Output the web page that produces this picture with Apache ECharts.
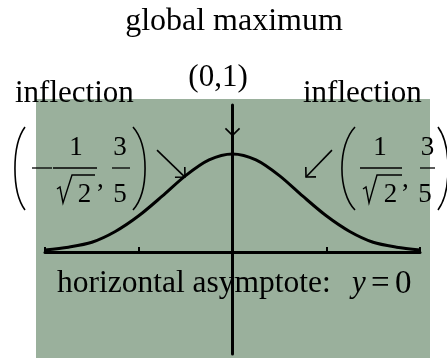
<!DOCTYPE html>
<html>
<head>
<meta charset="utf-8">
<script src="https://cdn.jsdelivr.net/npm/echarts@6/dist/echarts.min.js"></script>
<style>
html, body { margin: 0; padding: 0; background: #fff; }
#chart { width: 447px; height: 358px; }
</style>
</head>
<body>
<div id="chart"></div>
<script>
// curve
const xValues = [-2, -1.75, -1.5, -1.25, -1, -0.75, -0.5, -0.25, 0, 0.25, 0.5, 0.75, 1, 1.25, 1.5, 1.75, 2];
const yValues = [0.02, 0.05, 0.1, 0.21, 0.37, 0.57, 0.78, 0.94, 1, 0.94, 0.78, 0.57, 0.37, 0.21, 0.1, 0.05, 0.02];
// arrows, [from, to] in data units
const arrowLeft = [[-0.805, 1.04], [-0.507, 0.765]];
const arrowRight = [[1.061, 1.04], [0.784, 0.765]];
const arrowTop = [[0, 1.5], [0, 1.19]];

const serif = '"Liberation Serif", "Times New Roman", serif';
const chart = echarts.init(document.getElementById("chart"));

chart.setOption({
  animation: false,
  grid: { left: 45, top: 105, width: 375, height: 249 },
  xAxis: {
    type: "value",
    min: -2,
    max: 2,
    interval: 1,
    axisLine: { lineStyle: { color: "#000", width: 3 } },
    axisTick: { inside: true, length: 5, lineStyle: { color: "#000", width: 2 } },
    axisLabel: { show: false },
    splitLine: { show: false },
  },
  yAxis: {
    type: "value",
    min: -1.04,
    max: 1.5,
    axisLine: { show: true, lineStyle: { color: "#000", width: 3 } },
    axisTick: { show: false },
    axisLabel: { show: false },
    splitLine: { show: false },
  },
  series: [
    {
      type: "line",
      data: xValues.map((x, i) => [x, yValues[i]]),
      smooth: 0.3,
      symbol: "none",
      lineStyle: { color: "#000", width: 3 },
      z: 3,
    },
  ],
});

const px = (p) => chart.convertToPixel({ gridIndex: 0 }, p);

function arrow(a) {
  const s = px(a[0]);
  const t = px(a[1]);
  const dx = s[0] - t[0], dy = s[1] - t[1];
  const len = Math.sqrt(dx * dx + dy * dy);
  const ux = dx / len, uy = dy / len;
  const h = 10, c = Math.cos(Math.PI / 4), sn = Math.sin(Math.PI / 4);
  const h1 = [t[0] + h * (ux * c - uy * sn), t[1] + h * (ux * sn + uy * c)];
  const h2 = [t[0] + h * (ux * c + uy * sn), t[1] + h * (-ux * sn + uy * c)];
  const st = { stroke: "#000", lineWidth: 1.6 };
  return [
    { type: "line", z: 100, shape: { x1: s[0], y1: s[1], x2: t[0], y2: t[1] }, style: st },
    { type: "polyline", z: 100, shape: { points: [h1, t, h2] }, style: Object.assign({ fill: null }, st) },
  ];
}

function txt(text, x, y, size, align, extra) {
  return {
    type: "text",
    z: 100,
    x: x,
    y: y,
    style: Object.assign({
      text: text,
      font: size + "px " + serif,
      fill: "#000",
      align: align,
      verticalAlign: "middle",
      textAlign: align,
      textVerticalAlign: "middle",
    }, extra || {}),
  };
}

function hline(x1, x2, y) {
  return { type: "line", z: 100, shape: { x1: x1, y1: y, x2: x2, y2: y }, style: { stroke: "#000", lineWidth: 1.3 } };
}

function paren(xEnd, xMid, top, bottom) {
  const c = xEnd + (xMid - xEnd) * 1.34;
  return {
    type: "bezierCurve",
    z: 100,
    shape: { x1: xEnd, y1: top, x2: xEnd, y2: bottom, cpx1: c, cpy1: top + (bottom - top) * 0.22, cpx2: c, cpy2: bottom - (bottom - top) * 0.22 },
    style: { stroke: "#000", lineWidth: 1.6, fill: null },
  };
}

function radical(x0, xb, xt, x1) {
  return {
    type: "polyline",
    z: 100,
    shape: { points: [[x0, 189], [x0 + 3, 187], [xb, 203], [xt, 175], [x1, 175]] },
    style: { stroke: "#000", lineWidth: 1.4, fill: null },
  };
}

const graphics = [
  { type: "rect", z: -100, shape: { x: 36, y: 99, width: 394, height: 259 }, style: { fill: "#9ab09c" } },
  txt("global maximum", 234, 22, 32, "center"),
  txt("(0,1)", 218, 77.5, 31, "center"),
  txt("inflection", 15, 94, 31, "left"),
  txt("inflection", 303, 94, 31, "left"),
  txt("horizontal asymptote:", 57, 284, 31.5, "left"),
  txt("y", 352, 284, 31, "left", { font: "italic 31px " + serif }),
  txt("=", 371, 284, 33, "left"),
  txt("0", 395, 284, 33, "left"),
  // left point
  paren(25, 15, 127, 210),
  paren(133, 145, 127, 210),
  hline(32, 52, 168),
  hline(53, 97, 168),
  hline(112, 130, 168),
  txt("1", 76, 148, 27, "center"),
  txt("3", 120, 148, 27, "center"),
  radical(57, 63, 72, 95),
  txt("2", 84.5, 195, 27, "center"),
  txt("5", 120, 195, 27, "center"),
  txt(",", 97, 180, 27, "left"),
  // right point
  paren(355, 342, 127, 210),
  paren(438, 448, 127, 210),
  hline(360, 402, 168),
  hline(420, 435, 168),
  txt("1", 380, 148, 27, "center"),
  txt("3", 427.5, 148, 27, "center"),
  radical(363, 369, 377, 402),
  txt("2", 390.5, 195, 27, "center"),
  txt("5", 425, 195, 27, "center"),
  txt(",", 402, 180, 27, "left"),
].concat(arrow(arrowLeft), arrow(arrowRight), arrow(arrowTop));

chart.setOption({ graphic: { elements: graphics } });
</script>
</body>
</html>
